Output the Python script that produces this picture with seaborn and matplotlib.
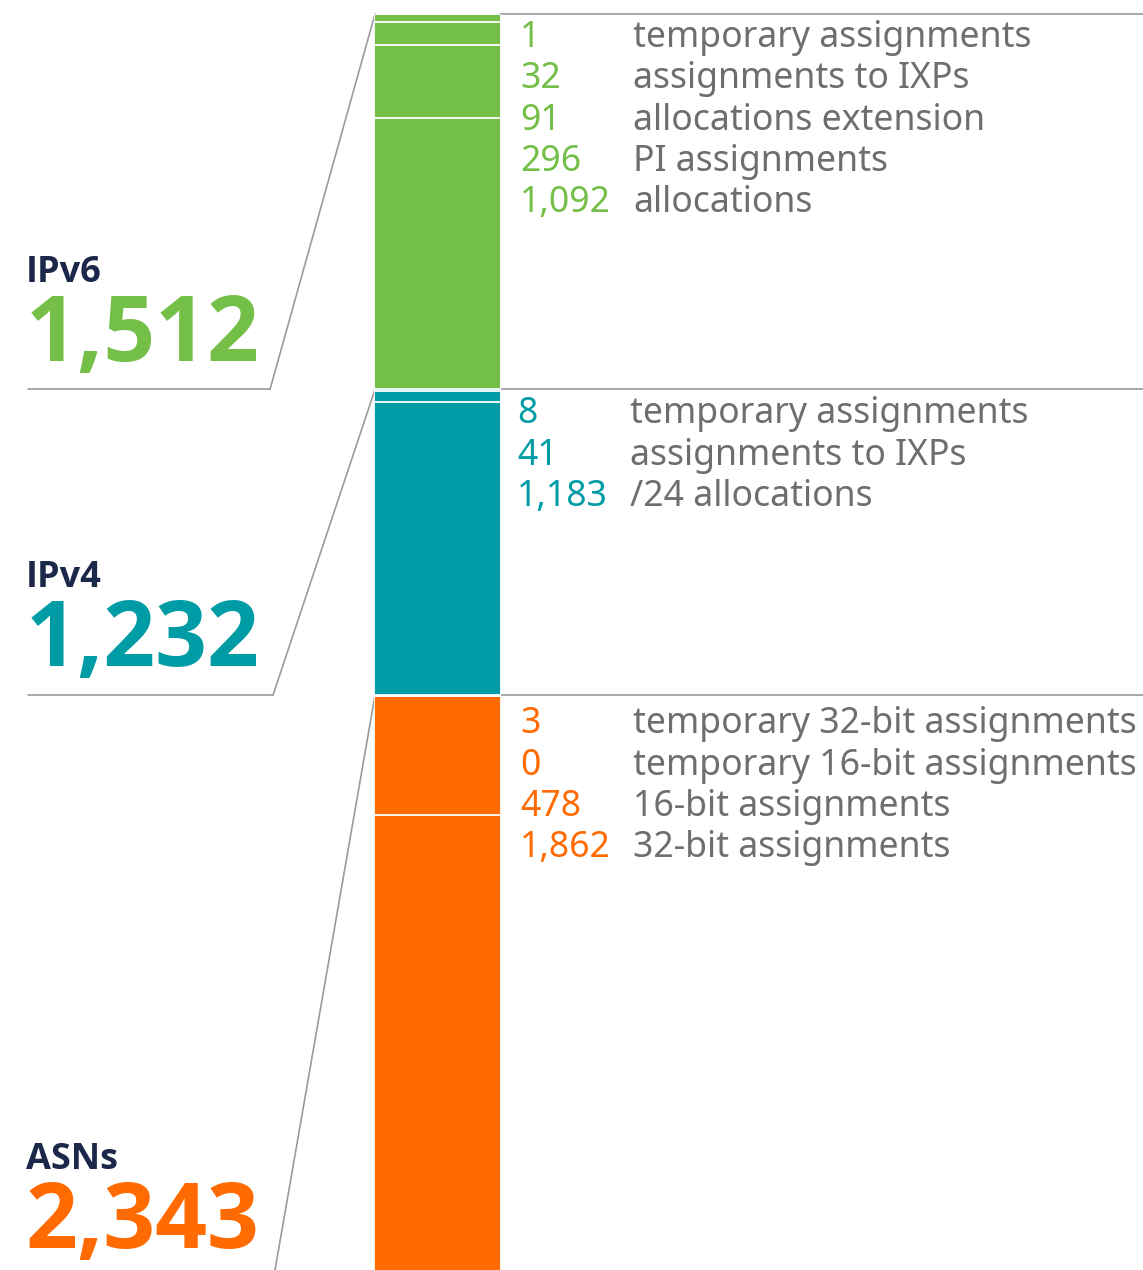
import matplotlib
matplotlib.use("Agg")
import matplotlib.pyplot as plt
import seaborn as sns
import numpy as np

# ---------------- data ----------------
groups = ["IPv6", "IPv4", "ASNs"]
group_totals = [1512, 1232, 2343]
group_colors = ["#74BF48", "#009CA6", "#FF6B00"]

ipv6_values = [1, 32, 91, 296, 1092]
ipv6_labels = ["temporary assignments", "assignments to IXPs",
               "allocations extension", "PI assignments", "allocations"]
ipv4_values = [8, 41, 1183]
ipv4_labels = ["temporary assignments", "assignments to IXPs", "/24 allocations"]
asn_values = [3, 0, 478, 1862]
asn_labels = ["temporary 32-bit assignments", "temporary 16-bit assignments",
              "16-bit assignments", "32-bit assignments"]

group_values = [ipv6_values, ipv4_values, asn_values]
group_labels = [ipv6_labels, ipv4_labels, asn_labels]

# ---------------- style ----------------
sns.set_theme(style="white")
plt.rcParams["font.family"] = ["Noto Sans", "DejaVu Sans"]
BOLD_FAMILY = ["Open Sans", "DejaVu Sans"]

W, H = 1143, 1270
fig = plt.figure(figsize=(W / 100, H / 100), dpi=100)
fig.patch.set_facecolor("white")

BAR_L, BAR_R, BAR_TOP, BAR_BOTTOM = 375, 500, 14, 1277
total = sum(group_totals)

# bar axes (y in data units, inverted); bar runs slightly past the bottom edge
ax_bar = fig.add_axes([(BAR_L - 1) / W, (H - BAR_BOTTOM) / H,
                       (BAR_R - BAR_L + 2) / W, (BAR_BOTTOM - BAR_TOP) / H])
seg_vals, seg_cols = [], []
for vals, col in zip(group_values, group_colors):
    for v in vals:
        seg_vals.append(v)
        seg_cols.append(col)
cum = np.cumsum(seg_vals)
# draw cumulative bars from largest to smallest so each segment shows
for c, col in sorted(zip(cum, seg_cols), key=lambda t: -t[0]):
    sns.barplot(x=["all"], y=[c], color=col, width=1.0, errorbar=None,
                edgecolor="white", linewidth=1.3, saturation=1, ax=ax_bar)
ax_bar.set_xlim(-0.5, 0.5)
ax_bar.set_ylim(total, 0)
ax_bar.axis("off")

# overlay axes in pixel coordinates for annotations
ax = fig.add_axes([0, 0, 1, 1], zorder=-1)
ax.set_xlim(0, W)
ax.set_ylim(H, 0)
ax.axis("off")


def ypix(v):
    return BAR_TOP + v * (BAR_BOTTOM - BAR_TOP) / total


LINE_C = "#9B9B9B"
NAVY = "#1B2849"
GREY_TXT = "#6D6E71"
elbow_x = [270, 273, 275]
num_x = [520, 517, 520]
lab_x = [633, 630, 633]
row_off = [33, 34, 38]
title_off = [107, 108, 108]
big_off = [28, 29, 29]

start = 0
for gi, (name, tot, col) in enumerate(zip(groups, group_totals, group_colors)):
    top = ypix(start)
    bottom = ypix(start + tot)
    # connector on the left
    if start + tot < total:
        ax.plot([28, elbow_x[gi]], [bottom, bottom], color=LINE_C, lw=1.2)
    ax.plot([elbow_x[gi], BAR_L], [min(bottom, H), top], color=LINE_C, lw=1.2)
    # right rule
    ax.plot([BAR_R, W], [top, top], color=LINE_C, lw=1.2)
    # left labels
    ax.text(26, bottom - title_off[gi], name, fontsize=26, fontweight="bold",
            family=BOLD_FAMILY, color=NAVY, ha="left", va="baseline")
    ax.text(26, bottom - big_off[gi], f"{tot:,}", fontsize=65.5,
            fontweight="bold", family=BOLD_FAMILY, color=col,
            ha="left", va="baseline")
    # right breakdown
    for i, (v, lab) in enumerate(zip(group_values[gi], group_labels[gi])):
        yb = top + row_off[gi] + i * 41.3
        ax.text(num_x[gi], yb, f"{v:,}", fontsize=25.6, color=col,
                ha="left", va="baseline")
        ax.text(lab_x[gi], yb, lab, fontsize=25.6, color=GREY_TXT,
                ha="left", va="baseline")
    start += tot

fig.savefig("out.png", dpi=100, facecolor="white")
